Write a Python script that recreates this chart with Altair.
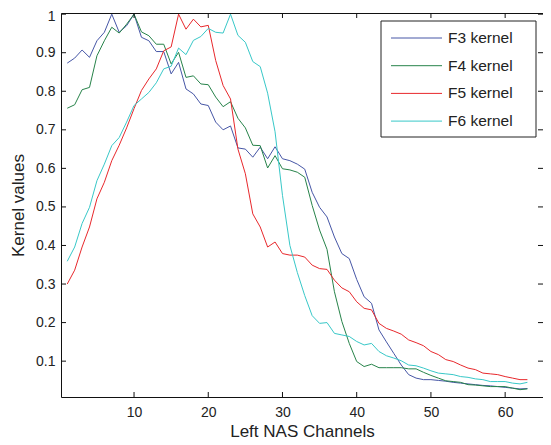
import altair as alt
import pandas as pd

channels = list(range(1, 64))

f3 = [0.873, 0.886, 0.907, 0.888, 0.931, 0.953, 1.0, 0.953, 0.97, 1.0,
      0.94, 0.931, 0.903, 0.903, 0.845, 0.875, 0.806, 0.793, 0.767, 0.763,
      0.72, 0.70, 0.71, 0.653, 0.65, 0.629, 0.655, 0.625, 0.656, 0.625,
      0.620, 0.611, 0.598, 0.538, 0.499, 0.474, 0.422, 0.379, 0.366, 0.312,
      0.267, 0.250, 0.181, 0.150, 0.120, 0.090, 0.065, 0.056, 0.052, 0.052,
      0.050, 0.048, 0.045, 0.043, 0.041, 0.039, 0.037, 0.036, 0.034, 0.032,
      0.030, 0.028, 0.029]

f4 = [0.756, 0.765, 0.804, 0.810, 0.892, 0.931, 0.966, 0.951, 0.974, 1.0,
      0.954, 0.944, 0.922, 0.922, 0.871, 0.901, 0.836, 0.840, 0.819, 0.817,
      0.785, 0.76, 0.773, 0.73, 0.705, 0.66, 0.659, 0.601, 0.633, 0.599,
      0.596, 0.590, 0.577, 0.504, 0.44, 0.39, 0.28, 0.203, 0.146, 0.099,
      0.086, 0.092, 0.083, 0.083, 0.083, 0.083, 0.080, 0.080, 0.071, 0.063,
      0.056, 0.049, 0.047, 0.045, 0.039, 0.038, 0.036, 0.034, 0.034, 0.034,
      0.030, 0.026, 0.028]

f5 = [0.300, 0.336, 0.396, 0.448, 0.521, 0.564, 0.620, 0.660, 0.705, 0.755,
      0.802, 0.832, 0.858, 0.905, 0.915, 1.0, 0.961, 0.987, 0.967, 0.971,
      0.88, 0.815, 0.78, 0.65, 0.586, 0.482, 0.448, 0.396, 0.409, 0.379,
      0.375, 0.375, 0.370, 0.349, 0.340, 0.338, 0.310, 0.290, 0.280, 0.254,
      0.237, 0.233, 0.198, 0.185, 0.178, 0.170, 0.155, 0.148, 0.140, 0.125,
      0.117, 0.104, 0.099, 0.090, 0.082, 0.078, 0.069, 0.067, 0.065, 0.060,
      0.056, 0.052, 0.052]

f6 = [0.359, 0.396, 0.457, 0.499, 0.568, 0.611, 0.659, 0.680, 0.72, 0.763,
      0.780, 0.797, 0.822, 0.858, 0.865, 0.912, 0.895, 0.932, 0.942, 0.963,
      0.953, 0.951, 1.0, 0.945, 0.927, 0.877, 0.864, 0.795, 0.695, 0.53,
      0.40, 0.33, 0.27, 0.218, 0.198, 0.200, 0.172, 0.168, 0.164, 0.151,
      0.142, 0.146, 0.125, 0.114, 0.108, 0.101, 0.090, 0.088, 0.082, 0.075,
      0.069, 0.067, 0.065, 0.060, 0.058, 0.054, 0.052, 0.047, 0.047, 0.047,
      0.043, 0.041, 0.045]

series_names = ["F3 kernel", "F4 kernel", "F5 kernel", "F6 kernel"]
series_colors = ["#4656a6", "#27834a", "#e8282c", "#38c8c8"]
x_ticks = [10, 20, 30, 40, 50, 60]
y_ticks = [0.1, 0.2, 0.3, 0.4, 0.5, 0.6, 0.7, 0.8, 0.9, 1.0]

FONT = "Liberation Sans"
W, H = 482, 384
X_TITLE = "Left NAS Channels"
Y_TITLE = "Kernel values"

rows = []
for name, vals in zip(series_names, [f3, f4, f5, f6]):
    for c, v in zip(channels, vals):
        rows.append({"channel": c, "value": v, "series": name})
df = pd.DataFrame(rows)

xscale = alt.Scale(domain=[0.16, 65.1], nice=False, zero=False)
yscale = alt.Scale(domain=[0.007, 1.003], nice=False, zero=False)

lines = alt.Chart(df).mark_line(strokeWidth=1, clip=True).encode(
    x=alt.X("channel:Q", scale=xscale, title=X_TITLE,
            axis=alt.Axis(values=x_ticks, ticks=False,
                          domain=False, grid=False, labelPadding=8, titlePadding=4)),
    y=alt.Y("value:Q", scale=yscale, title=Y_TITLE,
            axis=alt.Axis(values=y_ticks, ticks=False,
                          domain=False, grid=False, labelPadding=6, titlePadding=8,
                          format="~g",
                          labelOffset={"condition": {"test": "datum.value >= 1", "value": 2},
                                       "value": 0})),
    color=alt.Color("series:N", scale=alt.Scale(domain=series_names, range=series_colors),
                    legend=None),
)

tick_col = "#111111"
ydf = pd.DataFrame({"value": y_ticks})
xdf = pd.DataFrame({"channel": x_ticks})
left_ticks = alt.Chart(ydf).mark_rule(color=tick_col, strokeWidth=1).encode(
    y=alt.Y("value:Q", scale=yscale, title=Y_TITLE), x=alt.value(0), x2=alt.value(5))
right_ticks = alt.Chart(ydf).mark_rule(color=tick_col, strokeWidth=1).encode(
    y=alt.Y("value:Q", scale=yscale, title=Y_TITLE), x=alt.value(W - 5), x2=alt.value(W))
bottom_ticks = alt.Chart(xdf).mark_rule(color=tick_col, strokeWidth=1).encode(
    x=alt.X("channel:Q", scale=xscale, title=X_TITLE), y=alt.value(H - 5), y2=alt.value(H))
top_ticks = alt.Chart(xdf).mark_rule(color=tick_col, strokeWidth=1).encode(
    x=alt.X("channel:Q", scale=xscale, title=X_TITLE), y=alt.value(0), y2=alt.value(5))

# legend box
one = pd.DataFrame({"a": [0]})
box = alt.Chart(one).mark_rect(fill="white", stroke="#222222", strokeWidth=1).encode(
    x=alt.value(320), x2=alt.value(475), y=alt.value(8), y2=alt.value(124))

legend_layers = [box]
for k, (name, col) in enumerate(zip(series_names, series_colors)):
    yk = 25 + k * 27.7
    ldf = pd.DataFrame({"name": [name]})
    legend_layers.append(
        alt.Chart(ldf).mark_rule(color=col, strokeWidth=1).encode(
            x=alt.value(330), x2=alt.value(381), y=alt.value(yk)))
    legend_layers.append(
        alt.Chart(ldf).mark_text(align="left", baseline="middle", fontSize=15.5,
                                 font=FONT, color="#222222").encode(
            x=alt.value(387), y=alt.value(yk), text="name:N"))

chart = alt.layer(lines, left_ticks, right_ticks, bottom_ticks, top_ticks,
                  *legend_layers).properties(
    width=W, height=H,
    autosize=alt.AutoSizeParams(type="none"),
    padding={"left": 53, "top": 5, "right": 0, "bottom": 48},
).configure_view(stroke="#111111", strokeWidth=1).configure_axis(
    labelFont=FONT, titleFont=FONT, labelFontSize=14, titleFontSize=17,
    labelColor="#222222", titleColor="#222222", titleFontWeight="normal",
)

chart.save("out.html", embed_options={"renderer": "svg", "actions": False})
